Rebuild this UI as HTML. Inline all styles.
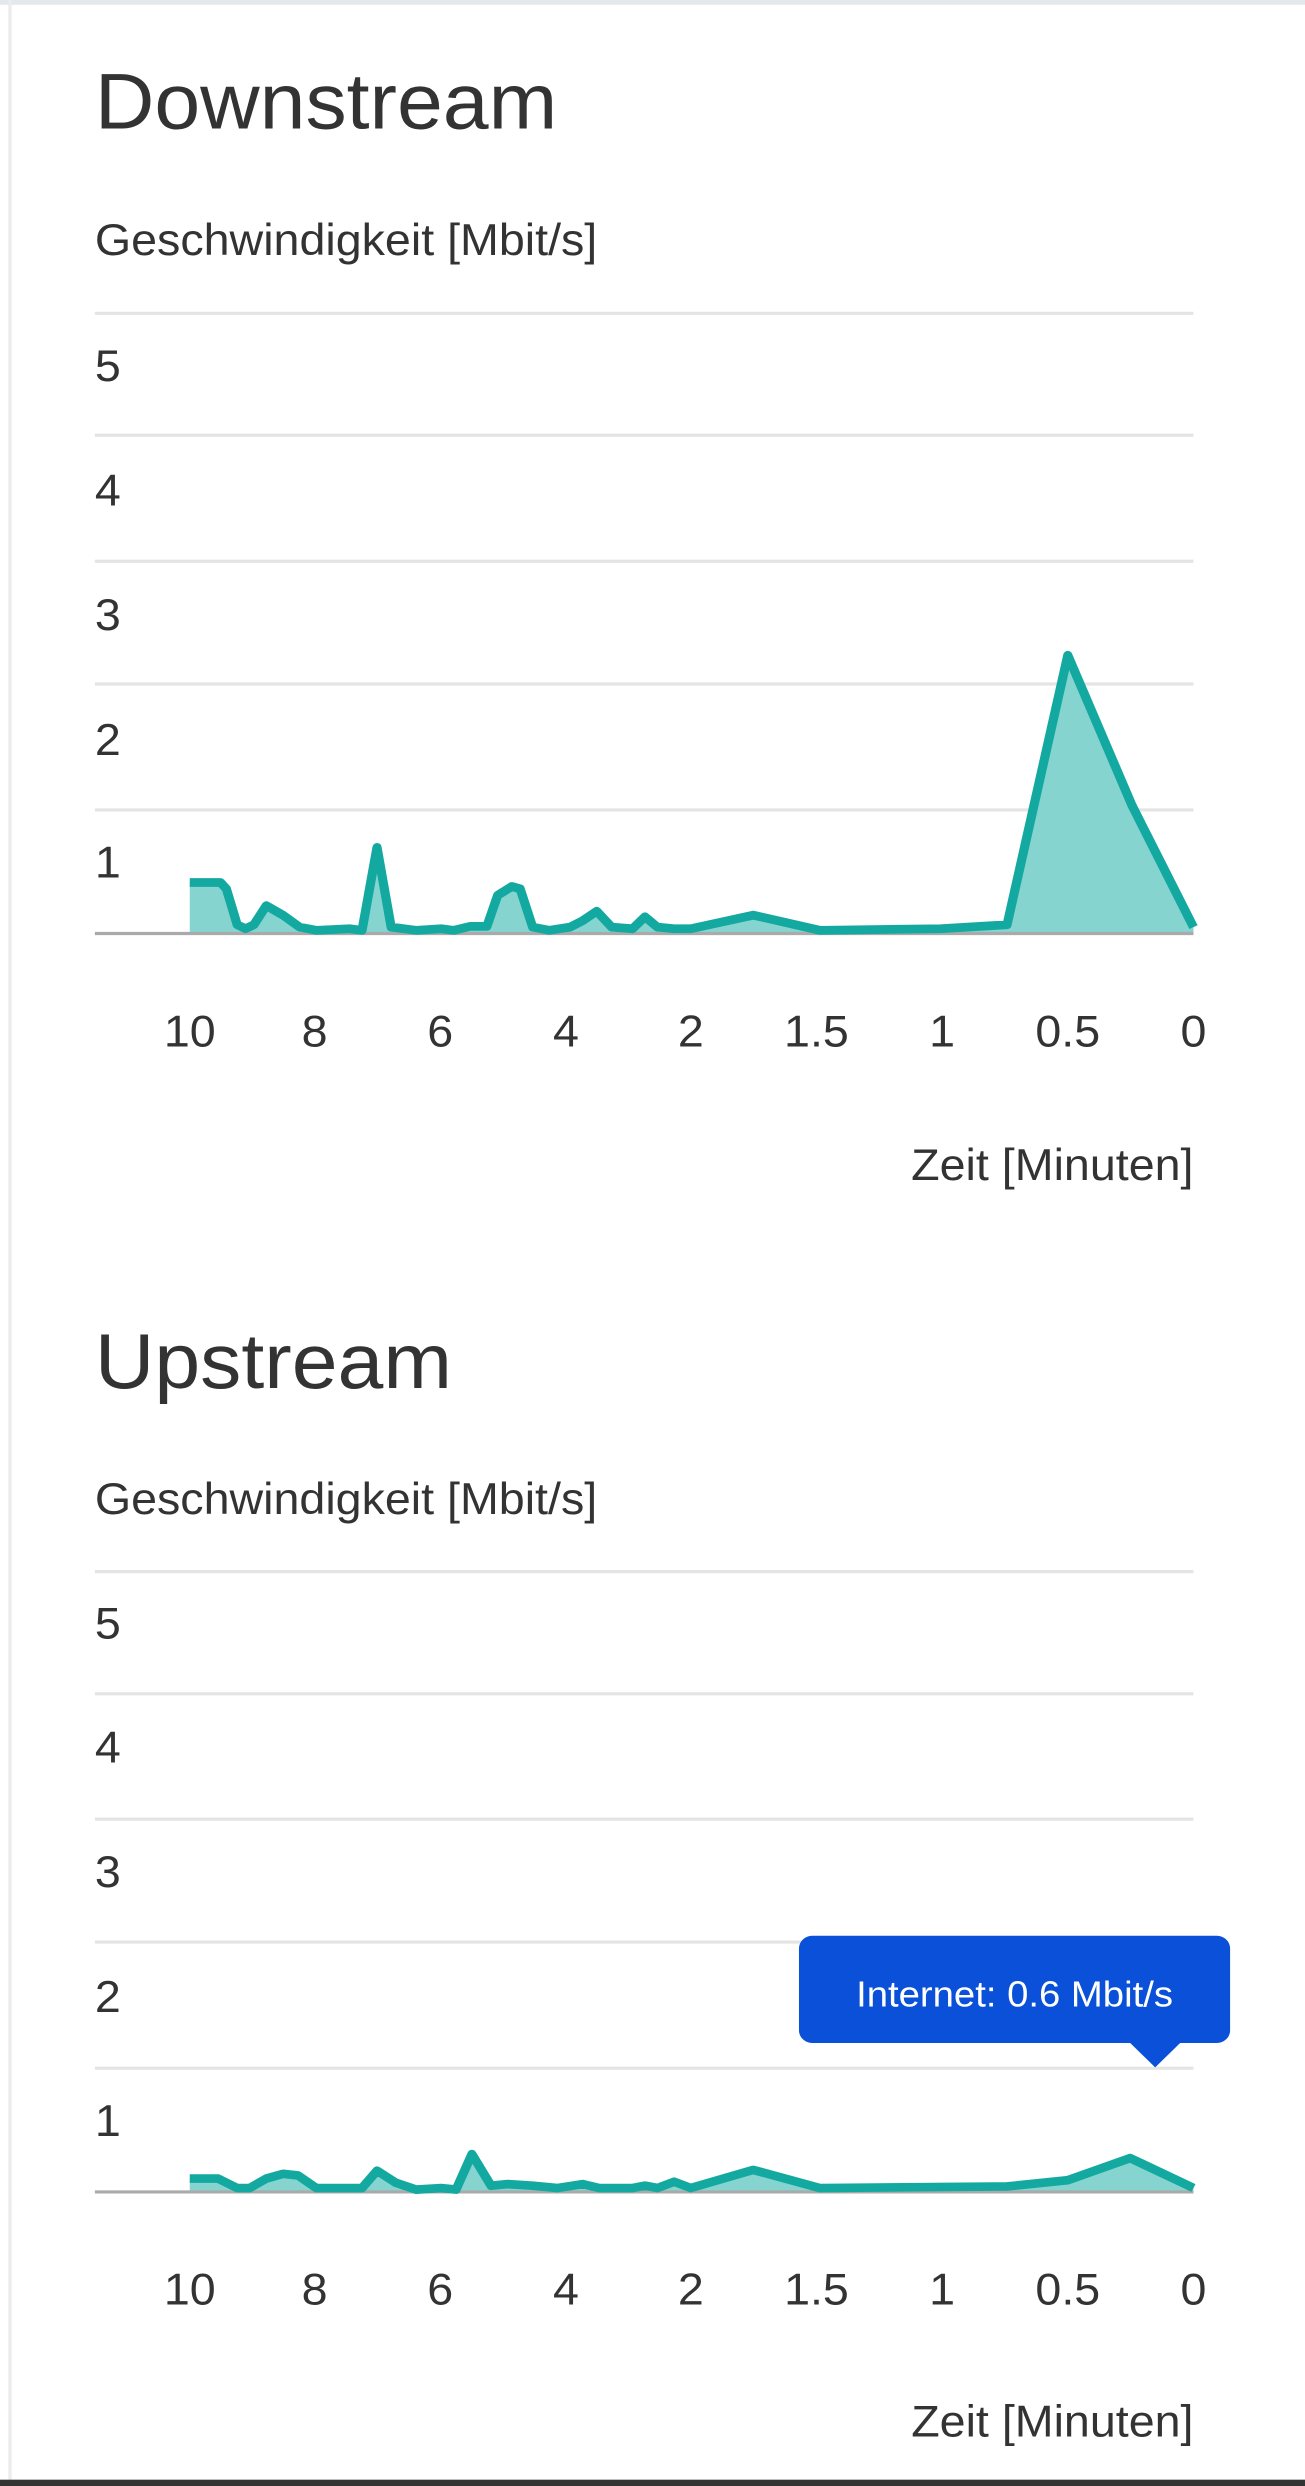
<!DOCTYPE html>
<html><head><meta charset="utf-8"><style>
html,body{margin:0;padding:0;background:#fff;width:1305px;height:2486px;overflow:hidden}
svg{display:block}
text{font-family:"Liberation Sans",sans-serif;fill:#333}
</style></head><body>
<svg width="1305" height="1250" viewBox="0 0 1568 1568" preserveAspectRatio="none">
<rect x="0" y="0" width="1568" height="6" fill="#e3e8ec"/>
<rect x="10" y="0" width="4" height="1568" fill="#ececec"/>
<text x="114" y="161" font-size="99">Downstream</text>
<text x="114" y="320" font-size="56">Geschwindigkeit [Mbit/s]</text>
<g stroke="#e4e4e4" stroke-width="4">
<line x1="114" x2="1434" y1="393" y2="393"/><line x1="114" x2="1434" y1="546" y2="546"/><line x1="114" x2="1434" y1="704" y2="704"/><line x1="114" x2="1434" y1="858" y2="858"/><line x1="114" x2="1434" y1="1016" y2="1016"/></g>
<g font-size="56"><text x="114" y="478">5</text><text x="114" y="634">4</text><text x="114" y="790">3</text><text x="114" y="947">2</text><text x="114" y="1101">1</text></g>
<polygon fill="#86d4d0" points="228,1171 228,1107 265,1107 272,1115 285,1160 295,1165 305,1160 320,1136 340,1148 360,1163 380,1167 420,1165 435,1167 453,1063 470,1163 500,1167 530,1165 545,1167 565,1162 585,1162 598,1123 615,1112 625,1115 640,1163 660,1167 685,1163 700,1155 717,1143 735,1163 760,1165 775,1150 790,1163 810,1165 830,1165 905,1148 985,1167 1130,1165 1210,1160 1283,822 1360,1010 1434,1163 1434,1171"/>
<line x1="114" x2="1434" y1="1171" y2="1171" stroke="#aaa" stroke-width="4"/>
<polyline fill="none" stroke="#14a9a0" stroke-width="11" stroke-linejoin="round" points="228,1107 265,1107 272,1115 285,1160 295,1165 305,1160 320,1136 340,1148 360,1163 380,1167 420,1165 435,1167 453,1063 470,1163 500,1167 530,1165 545,1167 565,1162 585,1162 598,1123 615,1112 625,1115 640,1163 660,1167 685,1163 700,1155 717,1143 735,1163 760,1165 775,1150 790,1163 810,1165 830,1165 905,1148 985,1167 1130,1165 1210,1160 1283,822 1360,1010 1434,1163"/>
<g font-size="56" text-anchor="middle"><text x="228" y="1313">10</text><text x="378" y="1313">8</text><text x="529" y="1313">6</text><text x="680" y="1313">4</text><text x="830" y="1313">2</text><text x="981" y="1313">1.5</text><text x="1132" y="1313">1</text><text x="1283" y="1313">0.5</text><text x="1434" y="1313">0</text></g>
<text x="1434" y="1480" font-size="56" text-anchor="end">Zeit [Minuten]</text>
</svg>
<svg width="1305" height="1236" viewBox="0 0 1568 1568" preserveAspectRatio="none">
<rect x="10" y="0" width="4" height="1568" fill="#ececec"/>
<rect x="0" y="1560" width="1568" height="8" fill="#333"/>
<text x="114" y="175" font-size="99">Upstream</text>
<text x="114" y="335" font-size="56">Geschwindigkeit [Mbit/s]</text>
<g stroke="#e4e4e4" stroke-width="4">
<line x1="114" x2="1434" y1="408" y2="408"/><line x1="114" x2="1434" y1="563" y2="563"/><line x1="114" x2="1434" y1="722" y2="722"/><line x1="114" x2="1434" y1="878" y2="878"/><line x1="114" x2="1434" y1="1038" y2="1038"/></g>
<g font-size="56"><text x="114" y="493">5</text><text x="114" y="650">4</text><text x="114" y="808">3</text><text x="114" y="967">2</text><text x="114" y="1124">1</text></g>
<polygon fill="#86d4d0" points="228,1195 228,1178 262,1178 285,1190 300,1190 320,1178 340,1172 358,1174 380,1190 435,1190 453,1168 475,1183 500,1192 530,1190 548,1192 567,1147 590,1187 610,1185 640,1187 670,1190 700,1185 720,1190 760,1190 775,1187 790,1190 810,1182 830,1190 905,1167 985,1190 1210,1188 1283,1180 1358,1152 1434,1190 1434,1195"/>
<line x1="114" x2="1434" y1="1195" y2="1195" stroke="#aaa" stroke-width="4"/>
<polyline fill="none" stroke="#14a9a0" stroke-width="11" stroke-linejoin="round" points="228,1178 262,1178 285,1190 300,1190 320,1178 340,1172 358,1174 380,1190 435,1190 453,1168 475,1183 500,1192 530,1190 548,1192 567,1147 590,1187 610,1185 640,1187 670,1190 700,1185 720,1190 760,1190 775,1187 790,1190 810,1182 830,1190 905,1167 985,1190 1210,1188 1283,1180 1358,1152 1434,1190"/>
<rect x="960" y="870" width="518" height="136" rx="16" fill="#0a50d8"/>
<polygon points="1356,1004 1420,1004 1388,1037" fill="#0a50d8"/>
<text x="1219" y="960" font-size="46" text-anchor="middle" style="fill:#fff">Internet: 0.6 Mbit/s</text>
<g font-size="56" text-anchor="middle"><text x="228" y="1338">10</text><text x="378" y="1338">8</text><text x="529" y="1338">6</text><text x="680" y="1338">4</text><text x="830" y="1338">2</text><text x="981" y="1338">1.5</text><text x="1132" y="1338">1</text><text x="1283" y="1338">0.5</text><text x="1434" y="1338">0</text></g>
<text x="1434" y="1505" font-size="56" text-anchor="end">Zeit [Minuten]</text>
</svg>
</body></html>
